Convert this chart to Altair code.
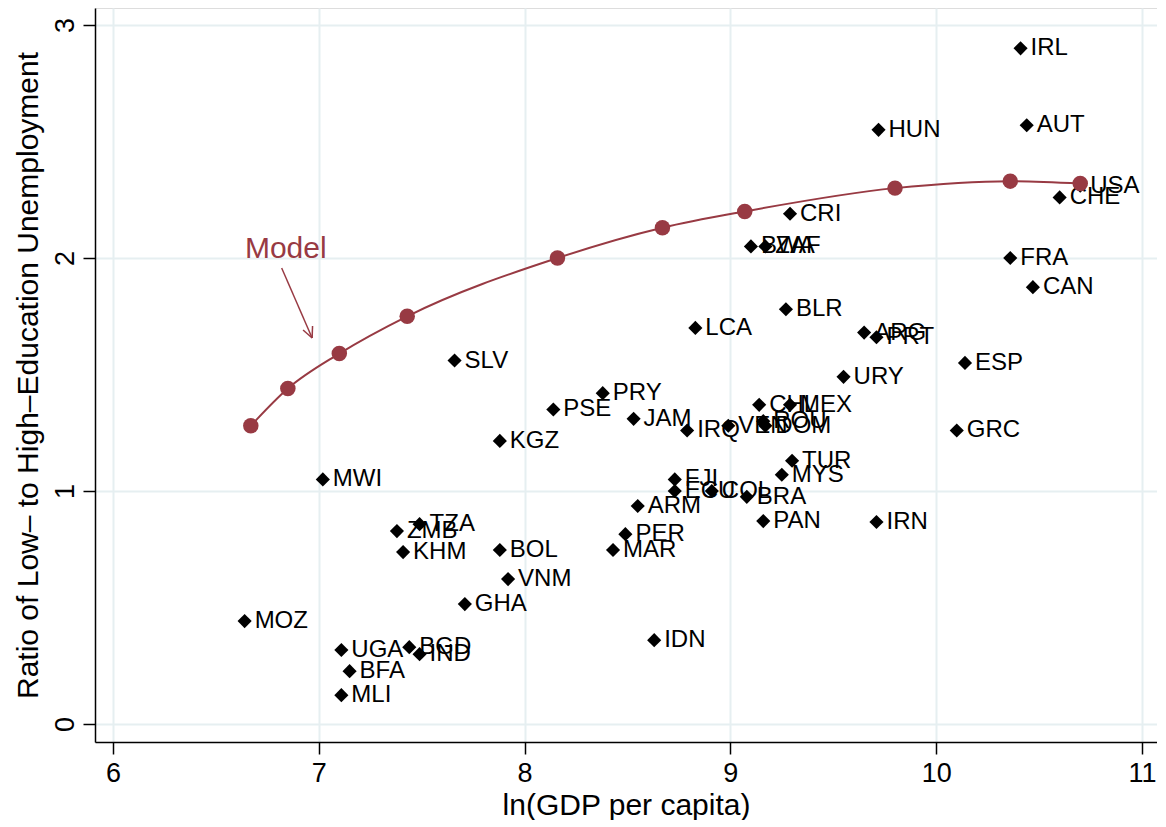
import altair as alt
import pandas as pd

# Country scatter data
countries = ["IRL","AUT","HUN","USA","CHE","CRI","FRA","CAN","BWA","ZAF","BLR","LCA",
             "ARG","PRT","ESP","SLV","URY","PRY","PSE","JAM","IRQ","VEN","CHL","MEX",
             "ROU","DOM","GRC","TUR","MYS","FJI","ECU","COL","BRA","ARM","PER","MAR",
             "PAN","IRN","MWI","ZMB","TZA","KHM","BOL","VNM","GHA","KGZ","MOZ","UGA",
             "BGD","IND","BFA","MLI","IDN"]
ln_gdp = [10.41,10.44,9.72,10.70,10.60,9.29,10.36,10.47,9.10,9.17,9.27,8.83,
          9.65,9.71,10.14,7.66,9.55,8.38,8.14,8.53,8.79,8.99,9.14,9.29,
          9.16,9.17,10.10,9.30,9.25,8.73,8.73,8.91,9.08,8.55,8.49,8.43,
          9.16,9.71,7.02,7.38,7.49,7.41,7.88,7.92,7.71,7.88,6.64,7.11,
          7.44,7.49,7.15,7.11,8.63]
ratio = [2.90,2.57,2.55,2.31,2.26,2.19,2.00,1.875,2.05,2.05,1.78,1.70,
         1.68,1.66,1.55,1.56,1.49,1.42,1.35,1.31,1.26,1.28,1.37,1.37,
         1.30,1.28,1.26,1.13,1.07,1.05,1.00,1.00,0.975,0.936,0.815,0.747,
         0.871,0.867,1.05,0.828,0.858,0.738,0.747,0.622,0.515,1.215,0.442,0.318,
         0.33,0.30,0.227,0.124,0.36]

# Model curve
model_x = [6.67,6.85,7.10,7.43,8.16,8.67,9.07,9.80,10.36,10.70]
model_y = [1.28,1.44,1.59,1.75,2.00,2.13,2.20,2.30,2.33,2.32]

# Annotation
label_text = ["Model"]
label_x = [6.84]
label_y = [2.04]
arrow_x = [6.82]; arrow_y = [1.957]; arrow_x2 = [6.968]; arrow_y2 = [1.657]
head_x = [6.968, 6.968]; head_y = [1.657, 1.657]
head_x2 = [6.970, 6.924]; head_y2 = [1.708, 1.691]

x_ticks = [6, 7, 8, 9, 10, 11]
y_ticks = [0, 1, 2, 3]

MAROON = "#983A43"
FONT = "Liberation Sans"

df = pd.DataFrame({"country": countries, "x": ln_gdp, "y": ratio})
mdf = pd.DataFrame({"x": model_x, "y": model_y})
ldf = pd.DataFrame({"t": label_text, "x": label_x, "y": label_y})
adf = pd.DataFrame({"x": arrow_x + head_x, "y": arrow_y + head_y,
                    "x2": arrow_x2 + head_x2, "y2": arrow_y2 + head_y2})

xs = alt.Scale(domain=[5.913, 11.073], nice=False, zero=False)
ys = alt.Scale(domain=[-0.077, 3.073], nice=False, zero=False)

xaxis = alt.Axis(title="ln(GDP per capita)", values=x_ticks, format="d",
                 titleFontSize=30, labelFontSize=27, titleFont=FONT, labelFont=FONT,
                 titleFontWeight="normal", titleColor="black", labelColor="black",
                 domainColor="black", domainWidth=1.5, tickColor="black", tickWidth=1.5,
                 tickSize=12, labelPadding=6, titlePadding=4,
                 grid=True, gridColor="#E6EFF1", gridWidth=2)
yaxis = alt.Axis(title="Ratio of Low\u2013 to High\u2013Education Unemployment", values=y_ticks,
                 format="d", titleFontSize=30, labelFontSize=27, titleFont=FONT, labelFont=FONT,
                 titleFontWeight="normal", titleColor="black", labelColor="black",
                 domainColor="black", domainWidth=1.5, tickColor="black", tickWidth=1.5,
                 tickSize=12, labelAngle=270, labelAlign="center", labelBaseline="bottom",
                 labelPadding=4, titlePadding=8,
                 grid=True, gridColor="#E6EFF1", gridWidth=2)

base = alt.Chart(df)
pts = base.mark_point(shape="diamond", filled=True, color="black", size=200, opacity=1).encode(
    x=alt.X("x:Q", scale=xs, axis=xaxis),
    y=alt.Y("y:Q", scale=ys, axis=yaxis),
)
txt = base.mark_text(align="left", baseline="middle", dx=10, fontSize=24, font=FONT,
                     color="black").encode(x="x:Q", y="y:Q", text="country:N")

line = alt.Chart(mdf).mark_line(color=MAROON, strokeWidth=2, interpolate="monotone").encode(
    x="x:Q", y="y:Q")
mpts = alt.Chart(mdf).mark_circle(color=MAROON, size=240, opacity=1).encode(x="x:Q", y="y:Q")

lab = alt.Chart(ldf).mark_text(color=MAROON, fontSize=30, font=FONT, align="center",
                               baseline="middle").encode(x="x:Q", y="y:Q", text="t:N")
arr = alt.Chart(adf).mark_rule(color=MAROON, strokeWidth=1.5).encode(
    x="x:Q", y="y:Q", x2="x2:Q", y2="y2:Q")

chart = alt.layer(pts, txt, line, mpts, lab, arr).properties(
    width=1062, height=734, padding={"left": 4, "top": 0, "right": 0, "bottom": 0}
).configure_view(stroke=None).configure(background="white")

chart.save("out.html", embed_options={"renderer": "svg", "actions": False})
